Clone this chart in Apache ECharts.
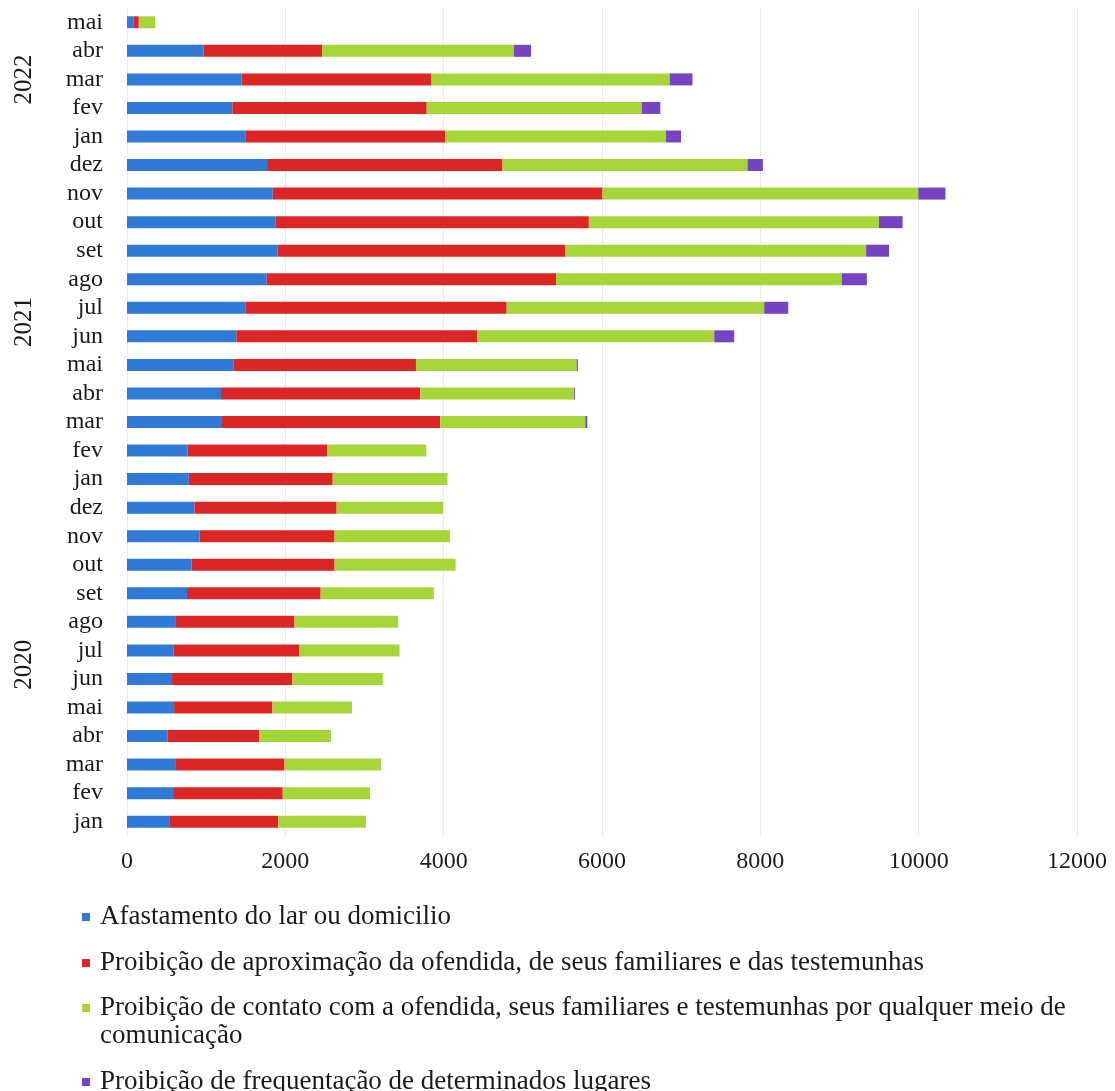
<!DOCTYPE html>
<html>
<head>
<meta charset="utf-8">
<script src="https://cdn.jsdelivr.net/npm/echarts@6/dist/echarts.min.js"></script>
<style>
  html, body { margin: 0; padding: 0; background: #ffffff; }
  #chart { width: 1115px; height: 1091px; }
</style>
</head>
<body>
<div id="chart"></div>
<script>
// Monthly counts of protective measures, Jan 2020 – May 2022 (chronological, bottom to top)
const months = [
  'jan','fev','mar','abr','mai','jun','jul','ago','set','out','nov','dez',
  'jan','fev','mar','abr','mai','jun','jul','ago','set','out','nov','dez',
  'jan','fev','mar','abr','mai'
];
const yearGroups = [
  { year: '2020', from: 0, to: 11 },
  { year: '2021', from: 12, to: 23 },
  { year: '2022', from: 24, to: 28 }
];

const seriesNames = [
  'Afastamento do lar ou domicilio',
  'Proibição de aproximação da ofendida, de seus familiares e das testemunhas',
  'Proibição de contato com a ofendida, seus familiares e testemunhas por qualquer meio de comunicação',
  'Proibição de frequentação de determinados lugares'
];

const afastamento = [
  542, 582, 609, 510, 595, 569, 586, 618, 758, 816, 916, 853,
  781, 767, 1200, 1187, 1349, 1381, 1494, 1764, 1900, 1873, 1841, 1769,
  1494, 1331, 1448, 970, 86
];
const aproximacao = [
  1367, 1385, 1381, 1159, 1242, 1521, 1593, 1498, 1688, 1806, 1706, 1795,
  1818, 1760, 2757, 2518, 2301, 3046, 3302, 3655, 3633, 3961, 4165, 2974,
  2526, 2455, 2392, 1494, 63
];
const contato = [
  1109, 1102, 1218, 907, 1006, 1141, 1264, 1309, 1430, 1529, 1457, 1345,
  1449, 1254, 1832, 1944, 2030, 2991, 3253, 3610, 3803, 3665, 3989, 3095,
  2789, 2716, 3014, 2423, 207
];
const frequentacao = [
  0, 0, 0, 0, 0, 0, 0, 0, 0, 0, 0, 0,
  0, 0, 25, 10, 15, 252, 304, 316, 289, 298, 343, 194,
  189, 235, 289, 216, 0
];

const xTicks = { min: 0, max: 12000, interval: 2000 };

const colors = ['#2f7ad6', '#dc2626', '#a6d53a', '#7644c2'];
const serif = '"Liberation Serif", "DejaVu Serif", serif';
const textColor = '#1b1b1b';

const chart = echarts.init(document.getElementById('chart'), null, { renderer: 'canvas' });

const values = [afastamento, aproximacao, contato, frequentacao];
const series = seriesNames.map((name, i) => ({
  name: name,
  type: 'bar',
  stack: 'total',
  barWidth: 12,
  itemStyle: { color: colors[i] },
  data: values[i]
}));

const legendText = {
  fontFamily: serif,
  fontSize: 27,
  lineHeight: 28,
  color: textColor,
  padding: [0, 0, 0, 5]
};

const legendBase = {
  orient: 'vertical',
  left: 82,
  padding: 0,
  itemGap: 18,
  itemWidth: 8,
  itemHeight: 8,
  icon: 'rect',
  selectedMode: false,
  textStyle: legendText
};

chart.setOption({
  backgroundColor: '#ffffff',
  animation: false,
  color: colors,
  grid: {
    left: 127,
    right: 38,
    top: 8,
    bottom: 255,
    containLabel: false,
    outerBoundsMode: 'none'
  },
  xAxis: {
    type: 'value',
    min: xTicks.min,
    max: xTicks.max,
    interval: xTicks.interval,
    axisLine: { show: false },
    axisTick: { show: false },
    splitLine: { show: true, lineStyle: { color: '#ebebeb', width: 1 } },
    axisLabel: {
      margin: 14,
      fontFamily: serif,
      fontSize: 24,
      color: textColor,
      formatter: function (v) { return String(v); }
    }
  },
  yAxis: {
    type: 'category',
    data: months,
    axisLine: { show: false },
    axisTick: { show: false },
    splitLine: { show: false },
    axisLabel: {
      margin: 24,
      fontFamily: serif,
      fontSize: 24,
      color: textColor,
      interval: 0
    }
  },
  legend: [
    Object.assign({}, legendBase, {
      top: 903,
      data: [seriesNames[0], seriesNames[1]]
    }),
    Object.assign({}, legendBase, {
      top: 966,
      // the wrapped entry keeps its marker on the first line of text
      formatter: function (name) {
        if (name === seriesNames[2]) {
          return '\nProibição de contato com a ofendida, seus familiares e testemunhas por qualquer meio de\ncomunicação';
        }
        return name;
      },
      data: [seriesNames[2], seriesNames[3]]
    })
  ],
  series: series
});

// Year captions for the month groups, centred on each group's span
function placeYears() {
  const elements = yearGroups.map(g => {
    const y1 = chart.convertToPixel({ yAxisIndex: 0 }, g.from);
    const y2 = chart.convertToPixel({ yAxisIndex: 0 }, g.to);
    return {
      type: 'text',
      x: 24,
      y: (y1 + y2) / 2,
      rotation: Math.PI / 2,
      style: {
        text: g.year,
        fontFamily: serif,
        fontSize: 25,
        fill: textColor,
        align: 'center',
        verticalAlign: 'middle'
      }
    };
  });
  chart.setOption({ graphic: elements });
}
placeYears();
</script>
</body>
</html>
